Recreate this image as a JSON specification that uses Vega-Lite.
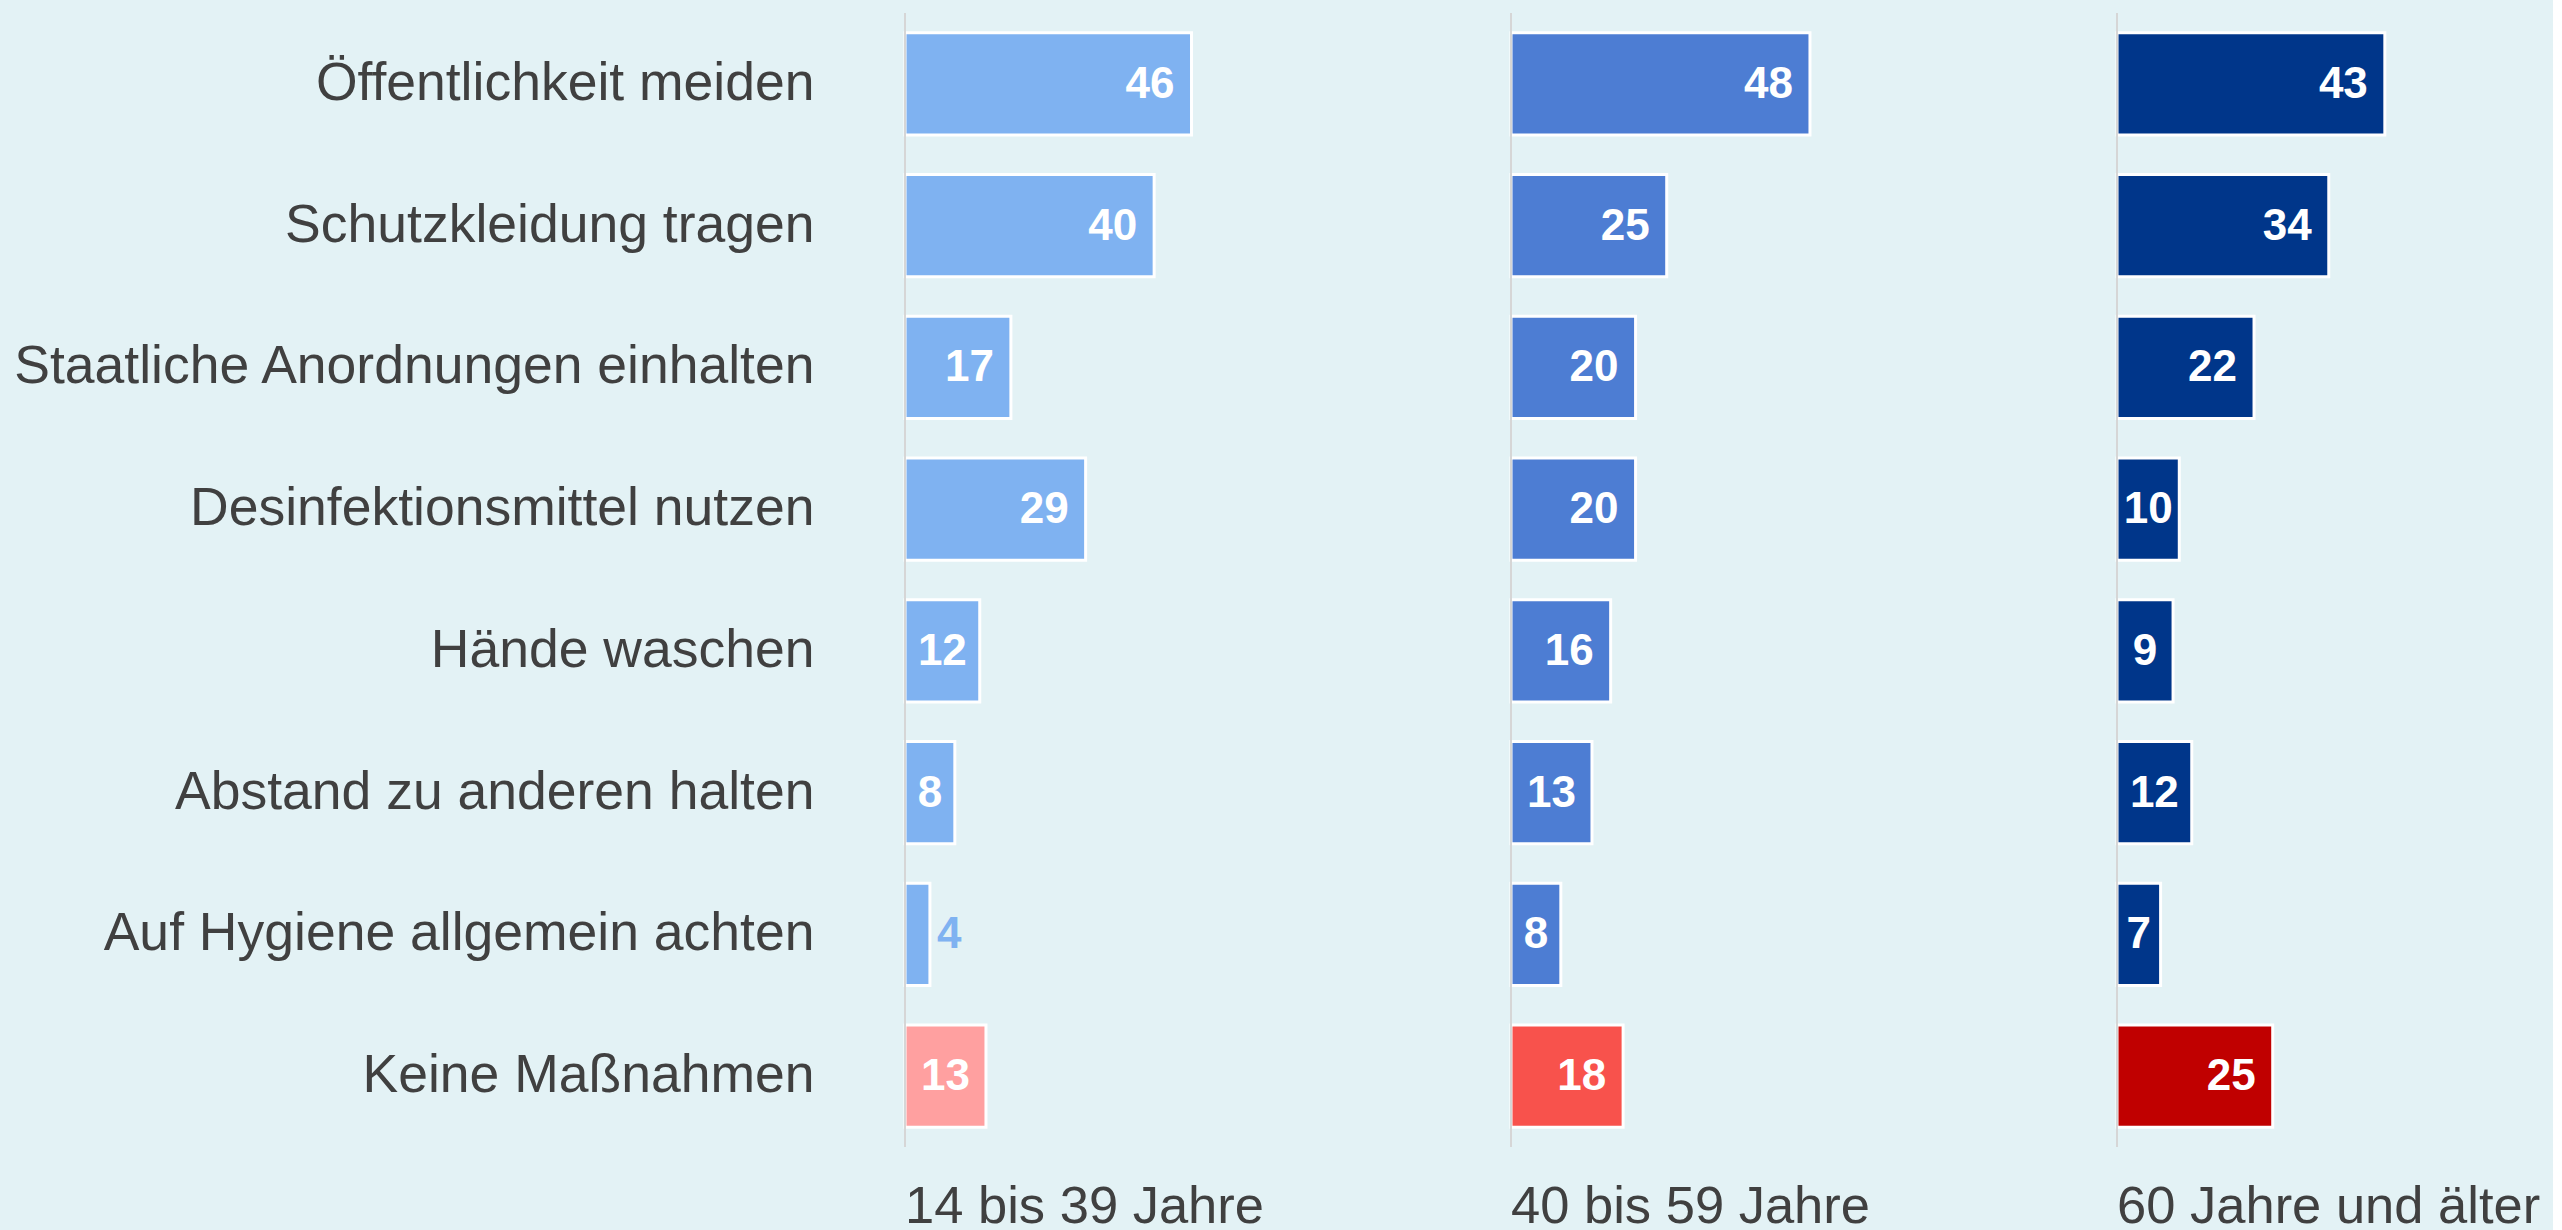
{
  "$schema": "https://vega.github.io/schema/vega-lite/v6.json",
  "background": "#e3f2f5",
  "padding": {"left": 10, "top": 12, "right": 0, "bottom": 0},
  "config": {"view": {"stroke": null}},
  "data": {"values": [
    {"gruppe": "14 bis 39 Jahre", "massnahme": "Öffentlichkeit meiden", "wert": 46},
    {"gruppe": "14 bis 39 Jahre", "massnahme": "Schutzkleidung tragen", "wert": 40},
    {"gruppe": "14 bis 39 Jahre", "massnahme": "Staatliche Anordnungen einhalten", "wert": 17},
    {"gruppe": "14 bis 39 Jahre", "massnahme": "Desinfektionsmittel nutzen", "wert": 29},
    {"gruppe": "14 bis 39 Jahre", "massnahme": "Hände waschen", "wert": 12},
    {"gruppe": "14 bis 39 Jahre", "massnahme": "Abstand zu anderen halten", "wert": 8},
    {"gruppe": "14 bis 39 Jahre", "massnahme": "Auf Hygiene allgemein achten", "wert": 4},
    {"gruppe": "14 bis 39 Jahre", "massnahme": "Keine Maßnahmen", "wert": 13},
    {"gruppe": "40 bis 59 Jahre", "massnahme": "Öffentlichkeit meiden", "wert": 48},
    {"gruppe": "40 bis 59 Jahre", "massnahme": "Schutzkleidung tragen", "wert": 25},
    {"gruppe": "40 bis 59 Jahre", "massnahme": "Staatliche Anordnungen einhalten", "wert": 20},
    {"gruppe": "40 bis 59 Jahre", "massnahme": "Desinfektionsmittel nutzen", "wert": 20},
    {"gruppe": "40 bis 59 Jahre", "massnahme": "Hände waschen", "wert": 16},
    {"gruppe": "40 bis 59 Jahre", "massnahme": "Abstand zu anderen halten", "wert": 13},
    {"gruppe": "40 bis 59 Jahre", "massnahme": "Auf Hygiene allgemein achten", "wert": 8},
    {"gruppe": "40 bis 59 Jahre", "massnahme": "Keine Maßnahmen", "wert": 18},
    {"gruppe": "60 Jahre und älter", "massnahme": "Öffentlichkeit meiden", "wert": 43},
    {"gruppe": "60 Jahre und älter", "massnahme": "Schutzkleidung tragen", "wert": 34},
    {"gruppe": "60 Jahre und älter", "massnahme": "Staatliche Anordnungen einhalten", "wert": 22},
    {"gruppe": "60 Jahre und älter", "massnahme": "Desinfektionsmittel nutzen", "wert": 10},
    {"gruppe": "60 Jahre und älter", "massnahme": "Hände waschen", "wert": 9},
    {"gruppe": "60 Jahre und älter", "massnahme": "Abstand zu anderen halten", "wert": 12},
    {"gruppe": "60 Jahre und älter", "massnahme": "Auf Hygiene allgemein achten", "wert": 7},
    {"gruppe": "60 Jahre und älter", "massnahme": "Keine Maßnahmen", "wert": 25}
  ]},
  "transform": [
    {"calculate": "datum.massnahme === 'Keine Maßnahmen' ? datum.gruppe + ' keine' : datum.gruppe", "as": "farbe"},
    {"calculate": "datum.wert / 2", "as": "mitte"}
  ],
  "facet": {
    "column": {
      "field": "gruppe",
      "type": "nominal",
      "sort": ["14 bis 39 Jahre", "40 bis 59 Jahre", "60 Jahre und älter"],
      "title": null,
      "header": {
        "labelOrient": "bottom",
        "labelAnchor": "start",
        "labelAlign": "left",
        "labelFontSize": 52.5,
        "labelFont": "Liberation Sans",
        "labelColor": "#404040",
        "labelPadding": 34
      }
    }
  },
  "spacing": {"column": 168},
  "spec": {
    "width": 436,
    "height": 1134,
    "layer": [
      {
        "mark": {"type": "bar", "stroke": "white", "strokeWidth": 3},
        "encoding": {
          "y": {
            "field": "massnahme", "type": "nominal",
            "sort": ["Öffentlichkeit meiden", "Schutzkleidung tragen", "Staatliche Anordnungen einhalten", "Desinfektionsmittel nutzen", "Hände waschen", "Abstand zu anderen halten", "Auf Hygiene allgemein achten", "Keine Maßnahmen"],
            "scale": {"paddingInner": 0.28, "paddingOuter": 0.14},
            "axis": {"title": null, "ticks": false, "domain": false, "labelFontSize": 53.5, "labelFont": "Liberation Sans", "labelColor": "#404040", "labelPadding": 89, "labelLimit": 0}
          },
          "x": {"field": "wert", "type": "quantitative", "scale": {"domain": [0, 70]}, "axis": null},
          "color": {
            "field": "farbe", "type": "nominal",
            "scale": {
              "domain": ["14 bis 39 Jahre", "40 bis 59 Jahre", "60 Jahre und älter", "14 bis 39 Jahre keine", "40 bis 59 Jahre keine", "60 Jahre und älter keine"],
              "range": ["#7fb2f1", "#4d7dd3", "#00368a", "#ffa0a0", "#f8524c", "#c00000"]
            },
            "legend": null
          }
        }
      },
      {
        "mark": {"type": "rule", "color": "#d6d6d6", "strokeWidth": 2},
        "encoding": {"x": {"datum": 0}}
      },
      {
        "transform": [{"filter": "datum.wert >= 16"}],
        "mark": {"type": "text", "align": "right", "baseline": "middle", "dx": -17, "dy": 1, "font": "Liberation Sans", "fontWeight": "bold", "fontSize": 44, "color": "white"},
        "encoding": {
          "y": {"field": "massnahme", "type": "nominal", "sort": ["Öffentlichkeit meiden", "Schutzkleidung tragen", "Staatliche Anordnungen einhalten", "Desinfektionsmittel nutzen", "Hände waschen", "Abstand zu anderen halten", "Auf Hygiene allgemein achten", "Keine Maßnahmen"]},
          "x": {"field": "wert", "type": "quantitative"},
          "text": {"field": "wert", "type": "quantitative"}
        }
      },
      {
        "transform": [{"filter": "datum.wert >= 5 && datum.wert < 16"}],
        "mark": {"type": "text", "align": "center", "baseline": "middle", "dy": 1, "font": "Liberation Sans", "fontWeight": "bold", "fontSize": 44, "color": "white"},
        "encoding": {
          "y": {"field": "massnahme", "type": "nominal", "sort": ["Öffentlichkeit meiden", "Schutzkleidung tragen", "Staatliche Anordnungen einhalten", "Desinfektionsmittel nutzen", "Hände waschen", "Abstand zu anderen halten", "Auf Hygiene allgemein achten", "Keine Maßnahmen"]},
          "x": {"field": "mitte", "type": "quantitative"},
          "text": {"field": "wert", "type": "quantitative"}
        }
      },
      {
        "transform": [{"filter": "datum.wert < 5"}],
        "mark": {"type": "text", "align": "left", "baseline": "middle", "dx": 7, "dy": 1, "font": "Liberation Sans", "fontWeight": "bold", "fontSize": 44},
        "encoding": {
          "y": {"field": "massnahme", "type": "nominal", "sort": ["Öffentlichkeit meiden", "Schutzkleidung tragen", "Staatliche Anordnungen einhalten", "Desinfektionsmittel nutzen", "Hände waschen", "Abstand zu anderen halten", "Auf Hygiene allgemein achten", "Keine Maßnahmen"]},
          "x": {"field": "wert", "type": "quantitative"},
          "text": {"field": "wert", "type": "quantitative"},
          "color": {"field": "farbe", "type": "nominal", "legend": null}
        }
      }
    ]
  }
}
